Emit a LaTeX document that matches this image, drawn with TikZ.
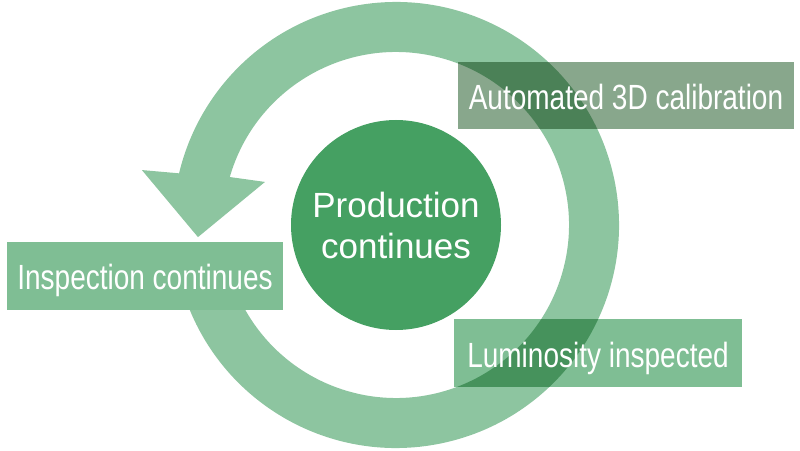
\documentclass[tikz,border=0pt]{standalone}
\usepackage{fontspec}
\setmainfont{Liberation Sans}
\newfontfamily\narrowfont[FakeStretch=0.8]{Liberation Sans}
\definecolor{ringgreen}{HTML}{8DC5A0}
\definecolor{coregreen}{HTML}{45A062}
\definecolor{boxgreen}{HTML}{7FBE94}
\definecolor{boxgrey}{HTML}{88A78C}
\begin{document}
\begin{tikzpicture}[x=1pt, y=1pt,
    stagebox/.style={rectangle, inner sep=0pt, text=white, minimum height=68pt,
        font=\narrowfont\fontsize{35}{41}\selectfont, text height=28pt, text depth=0pt},
    overlay box/.style={stagebox, preaction={fill=#1, blend mode=multiply}}]
    \useasboundingbox (0,0) rectangle (800,450);
    \fill[ringgreen, shift={(396,225)}] (192:223) arc[start angle=192, end angle=526.6, radius=223]
        -- (167.8:260) -- (183.5:198.4) -- (161.8:137.9) -- (163.9:173)
        arc[start angle=523.9, end angle=192, radius=173] -- cycle;
    \node[circle, fill=coregreen, minimum size=210pt, inner sep=0pt, text=white, align=center,
        font=\fontsize{35}{41}\selectfont] (core) at (396,225) {Production\\continues};
    \node[overlay box=boxgrey, minimum width=336pt, minimum height=67pt] (calib) at (626,354.5) {Automated 3D calibration};
    \node[overlay box=boxgreen, minimum width=288pt] (lumin) at (598,97) {Luminosity inspected};
    \node[stagebox, fill=boxgreen, minimum width=276pt] (inspect) at (145,174) {Inspection continues};
\end{tikzpicture}
\end{document}
